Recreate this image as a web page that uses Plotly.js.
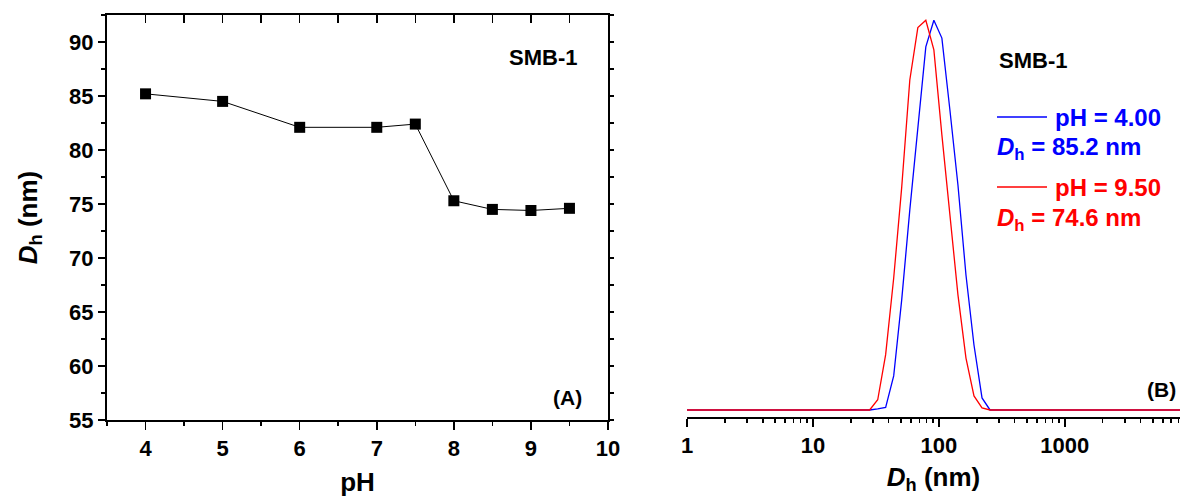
<!DOCTYPE html>
<html>
<head>
<meta charset="utf-8">
<script src="https://cdn.plot.ly/plotly-3.0.1.min.js"></script>
<style>html,body{margin:0;padding:0;background:#fff;}#chart{width:1180px;height:497px;}</style>
</head>
<body>
<div id="chart"></div>
<script>
// Panel A: hydrodynamic diameter vs pH
const pH = [4, 5, 6, 7, 7.5, 8, 8.5, 9, 9.5];
const dh = [85.2, 84.5, 82.1, 82.1, 82.4, 75.3, 74.5, 74.4, 74.6];

// Panel B: size distributions (log-spaced size bins, nm)
const sizeNm = [1, 28.2, 32.7, 37.8, 43.8, 50.7, 58.8, 68.1, 78.8, 91.3, 105.7, 122.4, 141.8, 164.2, 190.1, 220.2, 255.0, 10000];
const distPH400 = [0, 0, 0.05, 0.13, 1.70, 5.49, 9.98, 14.21, 18.11, 19.44, 18.55, 14.96, 11.22, 6.73, 3.24, 0.60, 0, 0];
const distPH950 = [0, 0, 0.51, 2.76, 6.58, 11.10, 16.46, 19.07, 19.44, 17.96, 13.72, 9.73, 5.74, 2.59, 0.70, 0.10, 0, 0];

const xTicksA = [4, 5, 6, 7, 8, 9, 10];
const yTicksA = [55, 60, 65, 70, 75, 80, 85, 90];
const xTicksB = [1, 10, 100, 1000];
const xTextB = ['1', '10', '100', '1000'];

const FONT = 'Arial, "Liberation Sans", sans-serif';
const BLUE = '#0000ff';
const RED = '#ff0000';

// minor log ticks for panel B
const minorB = [];
[1, 10, 100, 1000].forEach(d => { for (let m = 2; m <= 9; m++) minorB.push(d * m); });

const traces = [
  {
    x: pH, y: dh, xaxis: 'x', yaxis: 'y', type: 'scatter', mode: 'lines+markers',
    line: {color: '#000', width: 1},
    marker: {symbol: 'square', size: 11, color: '#000'},
    showlegend: false, hoverinfo: 'x+y'
  },
  { // invisible helper so mirrored (top/right) axes are drawn
    x: pH, y: dh, xaxis: 'x3', yaxis: 'y3', type: 'scatter', mode: 'markers',
    marker: {opacity: 0}, showlegend: false, hoverinfo: 'skip'
  },
  {
    x: sizeNm, y: distPH400, xaxis: 'x2', yaxis: 'y2', type: 'scatter', mode: 'lines',
    line: {color: BLUE, width: 1.3}, name: 'pH = 4.00', showlegend: false
  },
  {
    x: sizeNm, y: distPH950, xaxis: 'x2', yaxis: 'y2', type: 'scatter', mode: 'lines',
    line: {color: RED, width: 1.3}, name: 'pH = 9.50', showlegend: false
  }
];

const tickFont = {family: FONT, size: 22, color: '#000', weight: 'bold'};
const titleFont = {family: FONT, size: 26, color: '#000', weight: 'bold'};
const boldFont = (size, color) => ({family: FONT, size: size, color: color, weight: 'bold'});

const layout = {
  width: 1180, height: 497,
  margin: {l: 0, r: 0, t: 0, b: 0},
  paper_bgcolor: '#ffffff', plot_bgcolor: 'rgba(0,0,0,0)',
  showlegend: false,
  xaxis: {
    domain: [107/1180, 608/1180], anchor: 'y', range: [3.5, 10],
    tickmode: 'array', tickvals: xTicksA, ticks: 'outside', ticklen: 8, tickwidth: 1.5, tickcolor: '#000',
    minor: {dtick: 0.5, tick0: 0, ticks: 'outside', ticklen: 4, tickwidth: 1.5, tickcolor: '#000', showgrid: false},
    showline: true, linewidth: 2, linecolor: '#000', showgrid: false, zeroline: false,
    tickfont: tickFont,
    title: {text: 'pH', font: titleFont, standoff: 12},
    automargin: false
  },
  xaxis3: {
    overlaying: 'x', anchor: 'y', side: 'top', range: [3.5, 10],
    tickmode: 'linear', tick0: 0, dtick: 0.5, ticks: 'inside', ticklen: 8, tickwidth: 1.5, tickcolor: '#000',
    showticklabels: false, showline: true, linewidth: 2, linecolor: '#000', showgrid: false, zeroline: false
  },
  yaxis: {
    domain: [(497-420)/497, (497-15)/497], anchor: 'x', range: [55, 92.5],
    tickmode: 'array', tickvals: yTicksA, ticks: 'outside', ticklen: 7, tickwidth: 1.5, tickcolor: '#000',
    minor: {dtick: 2.5, tick0: 0, ticks: 'outside', ticklen: 4, tickwidth: 1.5, tickcolor: '#000', showgrid: false},
    showline: true, linewidth: 2, linecolor: '#000', showgrid: false, zeroline: false,
    tickfont: tickFont,
    title: {text: '<i>D</i><sub>h</sub> (nm)', font: titleFont, standoff: 24},
    automargin: false
  },
  yaxis3: {
    overlaying: 'y', anchor: 'x', side: 'right', range: [55, 92.5],
    tickmode: 'linear', tick0: 0, dtick: 2.5, ticks: 'outside', ticklen: 4, tickwidth: 1.5, tickcolor: '#000',
    showticklabels: false, showline: true, linewidth: 2, linecolor: '#000', showgrid: false, zeroline: false
  },
  xaxis2: {
    domain: [687/1180, 1], anchor: 'y2', type: 'log', range: [0, 3.915],
    tickmode: 'array', tickvals: xTicksB, ticktext: xTextB, ticks: 'outside', ticklen: 8, tickwidth: 1.5, tickcolor: '#000',
    minor: {tickmode: 'array', tickvals: minorB, ticks: 'outside', ticklen: 4, tickwidth: 1.5, tickcolor: '#000', showgrid: false},
    showline: true, linewidth: 2, linecolor: '#000', showgrid: false, zeroline: false,
    tickfont: tickFont,
    title: {text: '<i>D</i><sub>h</sub> (nm)', font: titleFont, standoff: 10},
    automargin: false
  },
  yaxis2: {
    domain: [(497-417)/497, (497-15)/497], anchor: 'x2', range: [-0.35, 19.7],
    visible: false, showgrid: false, zeroline: false
  },
  shapes: [
    {type: 'line', xref: 'paper', yref: 'paper', x0: 997/1180, x1: 1047/1180, y0: (497-117)/497, y1: (497-117)/497, line: {color: BLUE, width: 1.3}},
    {type: 'line', xref: 'paper', yref: 'paper', x0: 997/1180, x1: 1047/1180, y0: (497-187)/497, y1: (497-187)/497, line: {color: RED, width: 1.3}}
  ],
  annotations: [
    {xref: 'paper', yref: 'paper', x: 543/1180, y: (497-58)/497, xanchor: 'center', yanchor: 'middle', showarrow: false,
     text: 'SMB-1', font: boldFont(22, '#000')},
    {xref: 'paper', yref: 'paper', x: 567/1180, y: (497-397)/497, xanchor: 'center', yanchor: 'middle', showarrow: false,
     text: '(A)', font: boldFont(21, '#000')},
    {xref: 'paper', yref: 'paper', x: 1033/1180, y: (497-60)/497, xanchor: 'center', yanchor: 'middle', showarrow: false,
     text: 'SMB-1', font: boldFont(22, '#000')},
    {xref: 'paper', yref: 'paper', x: 1161/1180, y: (497-389)/497, xanchor: 'center', yanchor: 'middle', showarrow: false,
     text: '(B)', font: boldFont(21, '#000')},
    {xref: 'paper', yref: 'paper', x: 1053/1180, y: (497-117)/497, xanchor: 'left', yanchor: 'middle', showarrow: false,
     text: 'pH = 4.00', font: boldFont(24, BLUE)},
    {xref: 'paper', yref: 'paper', x: 995/1180, y: (497-149)/497, xanchor: 'left', yanchor: 'middle', showarrow: false,
     text: '<i>D</i><sub>h</sub> = 85.2 nm', font: boldFont(24, BLUE)},
    {xref: 'paper', yref: 'paper', x: 1053/1180, y: (497-187)/497, xanchor: 'left', yanchor: 'middle', showarrow: false,
     text: 'pH = 9.50', font: boldFont(24, RED)},
    {xref: 'paper', yref: 'paper', x: 995/1180, y: (497-219)/497, xanchor: 'left', yanchor: 'middle', showarrow: false,
     text: '<i>D</i><sub>h</sub> = 74.6 nm', font: boldFont(24, RED)}
  ]
};

Plotly.newPlot('chart', traces, layout, {staticPlot: true, displayModeBar: false});
</script>
</body>
</html>
